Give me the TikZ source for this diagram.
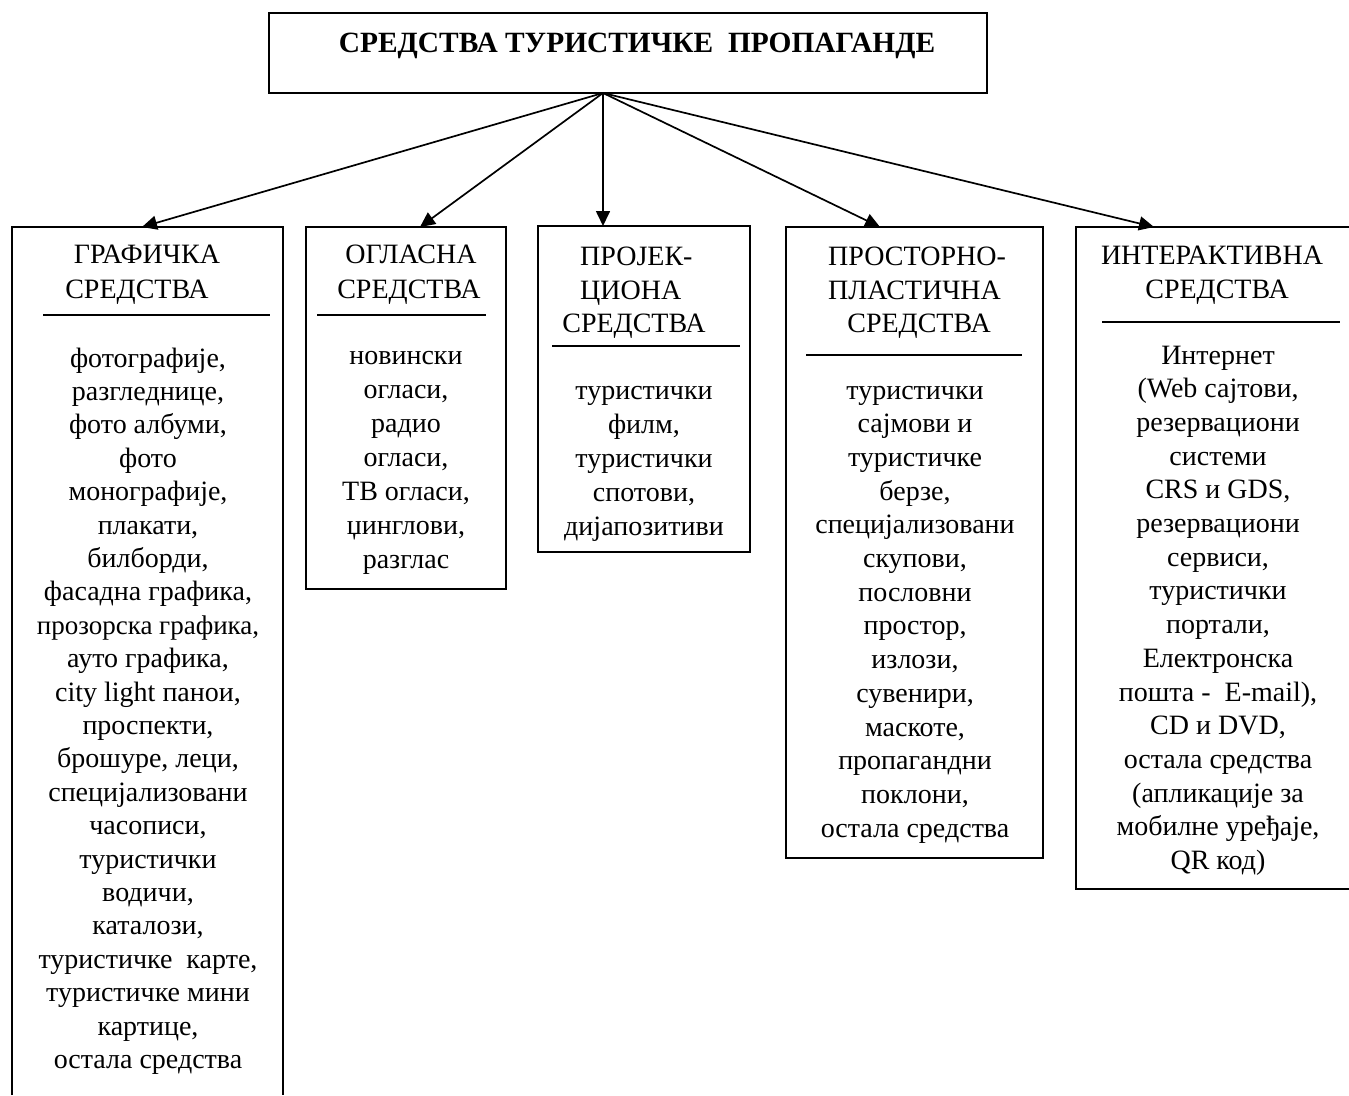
\documentclass[tikz,border=0pt]{standalone}
\usepackage{fontspec}
\setmainfont{Liberation Serif}
\usetikzlibrary{arrows.meta}
\begin{document}
\begin{tikzpicture}[x=1pt,y=-1pt,
  boxline/.style={line width=2pt},
  conn/.style={line width=1.7pt,-{Triangle[length=15pt,width=14pt]}},
  hrule/.style={line width=2pt},
  txt/.style={inner sep=0pt,anchor=base,font=\fontsize{28}{33.7}\selectfont},
  ttl/.style={inner sep=0pt,anchor=base,font=\fontsize{29.4}{34}\selectfont\bfseries},
  frame/.style={draw,boxline,inner sep=0pt},
  ]
\useasboundingbox (0,0) rectangle (1349,1095);
% title
\node[frame,minimum width=718pt,minimum height=80pt] (title) at (628,53) {};
\node[ttl] (titletext) at (637,52) {СРЕДСТВА ТУРИСТИЧКЕ\ \ ПРОПАГАНДЕ};
\coordinate (apex) at (603,93);
% boxes
\draw[boxline] (12,1095) -- (12,227) -- (283,227) -- (283,1095);
\node[frame,minimum width=200pt,minimum height=362pt] (b2) at (406,408) {};
\node[frame,minimum width=212pt,minimum height=326pt] (b3) at (644,389) {};
\node[frame,minimum width=257pt,minimum height=631pt] (b4) at (914.5,542.5) {};
\draw[boxline] (1349,227) -- (1076,227) -- (1076,889) -- (1349,889);
% arrow targets
\coordinate (t1) at (142,227);
\coordinate (t2) at (420,227);
\coordinate (t3) at (603,226);
\coordinate (t4) at (880,227);
\coordinate (t5) at (1154,227);
\foreach \k in {1,...,5} \draw[conn] (apex) -- (t\k);
% headers
\node[txt] (h1a) at (147,263) {ГРАФИЧКА};
\node[txt] (h1b) at (137,298) {СРЕДСТВА};
\node[txt] (h2a) at (411,263) {ОГЛАСНА};
\node[txt] (h2b) at (409,298) {СРЕДСТВА};
\node[txt,anchor=base west] (h3a) at (580,265) {ПРОЈЕК-};
\node[txt,anchor=base west] (h3b) at (580,299) {ЦИОНА};
\node[txt] (h3c) at (634,332) {СРЕДСТВА};
\node[txt,anchor=base west] (h4a) at (828,265) {ПРОСТОРНО-};
\node[txt,anchor=base west] (h4b) at (828,299) {ПЛАСТИЧНА};
\node[txt] (h4c) at (919,332) {СРЕДСТВА};
\node[txt] (h5a) at (1212,264) {ИНТЕРАКТИВНА};
\node[txt] (h5b) at (1217,298) {СРЕДСТВА};
% rules
\draw[hrule] (43,315) -- (270,315);
\draw[hrule] (317,315) -- (486,315);
\draw[hrule] (552,346) -- (740,346);
\draw[hrule] (806,355) -- (1022,355);
\draw[hrule] (1102,322) -- (1340,322);
% bodies
\foreach \t [count=\i from 0] in {{фотографије,},{разгледнице,},{фото албуми,},{фото},{монографије,},{плакати,},{билборди,},{фасадна графика,},{\fontsize{27}{31}\selectfont прозорска графика,},{ауто графика,},{city light панои,},{проспекти,},{брошуре, леци,},{специјализовани},{часописи,},{туристички},{водичи,},{каталози,},{туристичке\ \ карте,},{туристичке мини},{картице,},{остала средства}}
  \node[txt] (a\i) at (148,367+\i*33.4) {\t};
\foreach \t [count=\i from 0] in {{новински},{огласи,},{радио},{огласи,},{ТВ огласи,},{џинглови,},{разглас}}
  \node[txt] (c\i) at (406,364+\i*34.1) {\t};
\foreach \t [count=\i from 0] in {{туристички},{филм,},{туристички},{спотови,},{дијапозитиви}}
  \node[txt] (d\i) at (644,399+\i*34) {\t};
\foreach \t [count=\i from 0] in {{туристички},{сајмови и},{туристичке},{берзе,},{специјализовани},{скупови,},{пословни},{простор,},{излози,},{сувенири,},{маскоте,},{пропагандни},{поклони,},{остала средства}}
  \node[txt] (e\i) at (915,399+\i*33.7) {\t};
\foreach \t [count=\i from 0] in {{Интернет},{(Web сајтови,},{резервациони},{системи},{CRS и GDS,},{резервациони},{сервиси,},{туристички},{портали,},{Електронска},{пошта -\ \ E-mail),},{CD и DVD,},{остала средства},{(апликације за},{мобилне уређаје,},{QR код)}}
  \node[txt] (f\i) at (1218,364+\i*33.7) {\t};
\end{tikzpicture}
\end{document}
